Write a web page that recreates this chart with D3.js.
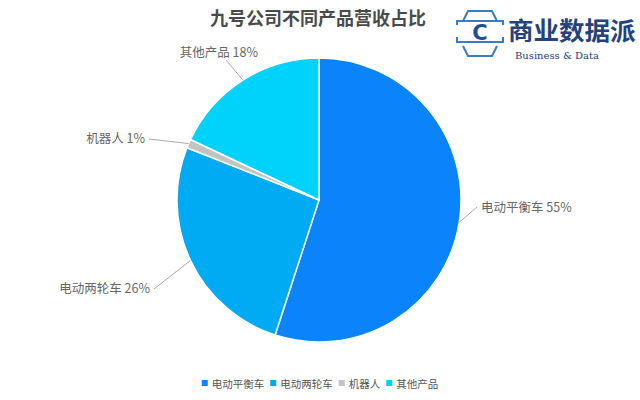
<!DOCTYPE html>
<html><head><meta charset="utf-8">
<script src="https://cdn.jsdelivr.net/npm/d3@7"></script>
<style>body{margin:0;background:#fff}svg{display:block}</style>
</head><body>
<svg id="c" width="640" height="400"></svg>
<script>
const categories = ["电动平衡车","电动两轮车","机器人","其他产品"];
const values = [55, 26, 1, 18];
const colors = ["#0b84fb","#00abf3","#c3c3c3","#00d3fb"];
const title = "九号公司不同产品营收占比";

const svg = d3.select("#c");
const font = "'Noto Sans CJK SC','Noto Sans',sans-serif";
const cx = 319, cy = 200, r = 142;

svg.append("text").attr("x",318).attr("y",25).attr("text-anchor","middle")
  .attr("font-family",font).attr("font-size",18).attr("font-weight","bold").attr("fill","#4a4a4a").text(title);

// logo
const lg = svg.append("g").attr("fill","none").attr("stroke","#3a7bc8").attr("stroke-width",2);
lg.append("path").attr("d","M463,21 L468,11 L492,11 L497,21");
lg.append("path").attr("d","M457,25 L457,21 L503,21 L503,25");
lg.append("path").attr("d","M457,37 L457,42 L503,42 L503,37");
lg.append("path").attr("d","M463,46 L468,56 L492,56 L497,46");
svg.append("text").attr("x",480).attr("y",40).attr("text-anchor","middle").attr("font-family","'DejaVu Sans',sans-serif")
  .attr("font-weight","bold").attr("font-size",21).attr("fill","#1f4e9a").text("C");
svg.append("text").attr("x",508).attr("y",40).attr("font-family","'Noto Sans CJK SC',serif").attr("font-weight","bold")
  .attr("font-size",25.5).attr("fill","#24427c").text("商业数据派");
svg.append("text").attr("x",515).attr("y",59).attr("font-family","'DejaVu Serif','Liberation Serif',serif")
  .attr("font-size",10).attr("fill","#24427c").text("Business & Data");

const data = categories.map((c,i)=>({name:c, value:values[i], color:colors[i]}));
const pie = d3.pie().value(d=>d.value).sort(null);
const arcs = pie(data);
const arc = d3.arc().innerRadius(0).outerRadius(r);
const g = svg.append("g").attr("transform",`translate(${cx},${cy})`);
g.selectAll("path").data(arcs).join("path").attr("d",arc)
  .attr("fill",d=>d.data.color).attr("stroke","#fff").attr("stroke-width",1.5);

// labels
const labelPos = [
  {lx:481, ly:208, anchor:"start", p2:[477,207]},
  {lx:150, ly:289, anchor:"end", p2:[154,289]},
  {lx:145, ly:139, anchor:"end", p2:[149,139]},
  {lx:258, ly:53, anchor:"end", p2:[226,60]},
];
arcs.forEach((a,i)=>{
  const mid = (a.startAngle+a.endAngle)/2;
  const px = cx + Math.sin(mid)*r, py = cy - Math.cos(mid)*r;
  const L = labelPos[i];
  svg.append("polyline").attr("points",`${px},${py} ${L.p2[0]},${L.p2[1]}`)
    .attr("fill","none").attr("stroke","#aaa").attr("stroke-width",1);
  svg.append("text").attr("x",L.lx).attr("y",L.ly+4).attr("text-anchor",L.anchor)
    .attr("font-family",font).attr("font-size",12.5).attr("fill","#666")
    .text(`${a.data.name} ${a.data.value}%`);
});

// legend
const legendItems = data.map(d=>({name:d.name,color:d.color}));
const lgd = svg.append("g");
let x = 0;
const items = [];
legendItems.forEach(d=>{
  const t = lgd.append("text").attr("y",388).attr("font-family",font).attr("font-size",10.5).attr("fill","#555").text(d.name);
  items.push({t,d});
});
let total = 0;
items.forEach(it=>{ it.w = it.t.node().getComputedTextLength(); total += 10 + it.w + 6; });
total -= 6;
x = 320 - total/2;
items.forEach(it=>{
  lgd.append("rect").attr("x",x).attr("y",380).attr("width",6).attr("height",6).attr("fill",it.d.color);
  it.t.attr("x",x+10);
  x += 10 + it.w + 6;
});
</script>
</body></html>
